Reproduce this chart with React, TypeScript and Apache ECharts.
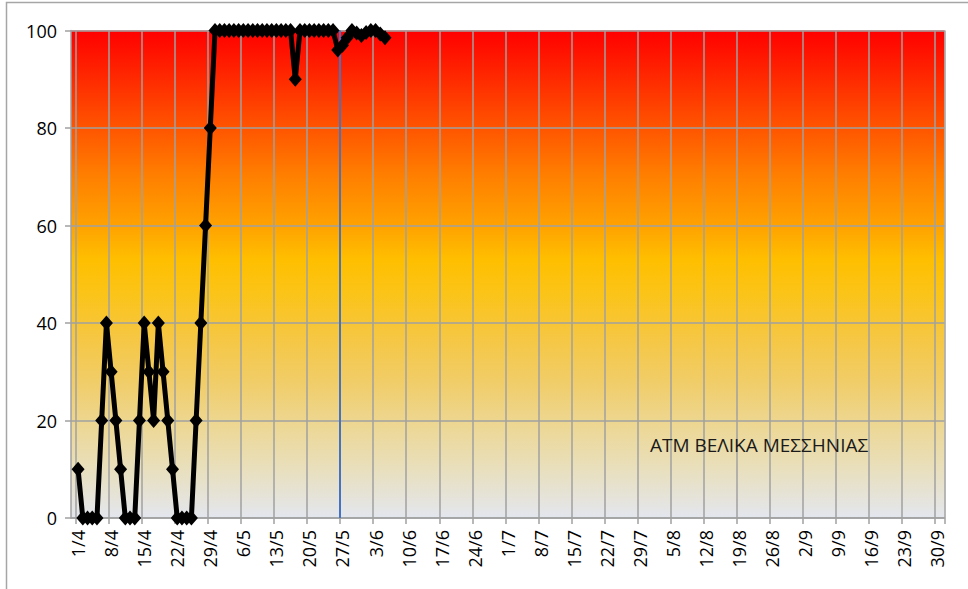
import React, { useEffect, useRef } from 'react';
import * as echarts from 'echarts';

// Axis range (category axis of days) and label step
const axisStartDay = 31;
const axisStartMonth = 3;
const axisEndDay = 1;
const axisEndMonth = 10;
const daysInMonth: Record<number, number> = { 3: 31, 4: 30, 5: 31, 6: 30, 7: 31, 8: 31, 9: 30, 10: 31 };
const firstLabel = '1/4';
const labelStep = 7;

// Series
const seriesName = 'ΑΤΜ ΒΕΛΙΚΑ ΜΕΣΣΗΝΙΑΣ';
const seriesStart = '1/4';
const atmValues: number[] = [
  10, 0, 0, 0, 0, 20, 40, 30, 20, 10,
  0, 0, 0, 20, 40, 30, 20, 40, 30, 20,
  10, 0, 0, 0, 0, 20, 40, 60, 80, 100,
  100, 100, 100, 100, 100, 100, 100, 100, 100, 100,
  100, 100, 100, 100, 100, 100, 90, 100, 100, 100,
  100, 100, 100, 100, 100, 96, 97, 98.5, 100, 99.5,
  99, 99.6, 100, 100, 99.3, 98.5,
];

// Vertical marker line
const markerDate = '27/5';

// Y axis ticks
const yMin = 0;
const yMax = 100;
const yStep = 20;

function buildDates(): string[] {
  const out: string[] = [];
  let d = axisStartDay;
  let m = axisStartMonth;
  for (;;) {
    out.push(`${d}/${m}`);
    if (d === axisEndDay && m === axisEndMonth) break;
    d++;
    if (d > daysInMonth[m]) {
      d = 1;
      m++;
    }
  }
  return out;
}

const FONT = '"Open Sans", "Noto Sans", sans-serif';
const GRID_COLOR = '#a0a0a0';

export default function App() {
  const ref = useRef<HTMLDivElement>(null);

  useEffect(() => {
    if (!ref.current) return;
    const chart = echarts.init(ref.current, null, { renderer: 'svg' });

    const dates = buildDates();
    const firstIdx = dates.indexOf(firstLabel);
    const startIdx = dates.indexOf(seriesStart);
    const seriesData = dates.map((_, i) => {
      const k = i - startIdx;
      return k >= 0 && k < atmValues.length ? atmValues[k] : null;
    });
    const markerIdx = dates.indexOf(markerDate);
    const isLabeled = (index: number) => index >= firstIdx && (index - firstIdx) % labelStep === 0;

    chart.setOption({
      animation: false,
      backgroundColor: '#ffffff',
      title: {
        text: seriesName,
        left: 645,
        top: 430,
        textStyle: { fontFamily: FONT, fontSize: 19, fontWeight: 'normal', color: '#1a1a1a' },
      },
      graphic: [
        {
          type: 'rect',
          x: 6.5,
          y: 2.5,
          shape: { x: 0, y: 0, width: 1000, height: 700 },
          style: { fill: 'none', stroke: '#a6a6a6', lineWidth: 1.5 },
          silent: true,
          z: 0,
        },
      ],
      grid: {
        left: 71,
        top: 30.5,
        width: 873.5,
        height: 487.5,
        containLabel: false,
        outerBoundsMode: 'none',
        show: true,
        borderWidth: 0,
        backgroundColor: new echarts.graphic.LinearGradient(0, 0, 0, 1, [
          { offset: 0, color: '#ff0000' },
          { offset: 0.1, color: '#ff2a00' },
          { offset: 0.2, color: '#ff5500' },
          { offset: 0.3, color: '#ff8000' },
          { offset: 0.4, color: '#ffa200' },
          { offset: 0.47, color: '#ffbf00' },
          { offset: 0.54, color: '#fbc418' },
          { offset: 0.62, color: '#f6c63e' },
          { offset: 0.72, color: '#f1cd68' },
          { offset: 0.82, color: '#ecd898' },
          { offset: 0.91, color: '#e8e0c2' },
          { offset: 1, color: '#e3e6ee' },
        ]),
      },
      xAxis: [
        {
          type: 'category',
          data: dates,
          boundaryGap: true,
          axisLine: { show: true, lineStyle: { color: GRID_COLOR, width: 1.5 } },
          axisTick: { show: true, interval: (i: number) => isLabeled(i), length: 6, lineStyle: { color: GRID_COLOR, width: 1.5 } },
          axisLabel: {
            interval: (i: number) => isLabeled(i),
            rotate: 90,
            margin: 12,
            fontFamily: FONT,
            fontSize: 18,
            color: '#000',
            hideOverlap: false,
          },
          splitLine: { show: true, interval: (i: number) => isLabeled(i), lineStyle: { color: GRID_COLOR, width: 1.5 } },
        },
        {
          type: 'value',
          min: 0,
          max: dates.length,
          show: false,
          splitLine: { show: false },
        },
      ],
      yAxis: {
        type: 'value',
        min: yMin,
        max: yMax,
        interval: yStep,
        axisLine: { show: true, lineStyle: { color: GRID_COLOR, width: 1.5 } },
        axisTick: { show: true, length: 6, lineStyle: { color: GRID_COLOR, width: 1.5 } },
        axisLabel: { fontFamily: FONT, fontSize: 18, color: '#000', margin: 14 },
        splitLine: { show: true, lineStyle: { color: GRID_COLOR, width: 1.5 } },
      },
      series: [
        {
          name: seriesName,
          type: 'line',
          xAxisIndex: 0,
          data: seriesData,
          symbol: 'diamond',
          symbolSize: [13, 15],
          showSymbol: true,
          showAllSymbol: true,
          clip: false,
          connectNulls: false,
          lineStyle: { color: '#000', width: 5 },
          itemStyle: { color: '#000' },
          z: 5,
        },
        {
          name: 'marker',
          type: 'line',
          xAxisIndex: 1,
          data: [],
          markLine: {
            silent: true,
            symbol: 'none',
            label: { show: false },
            lineStyle: { color: '#4472c4', width: 2, type: 'solid' },
            data: [{ xAxis: markerIdx }],
          },
          z: 3,
        },
      ],
    });

    return () => chart.dispose();
  }, []);

  return (
    <div
      ref={ref}
      style={{ position: 'fixed', left: 0, top: 0, width: 968, height: 589, background: '#fff' }}
    />
  );
}
